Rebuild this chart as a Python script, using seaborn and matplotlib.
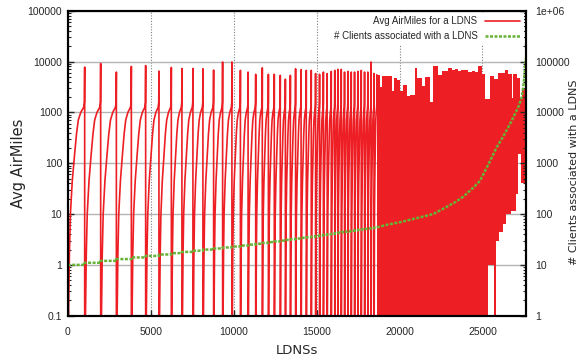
import matplotlib
matplotlib.use("Agg")
import matplotlib.pyplot as plt
import seaborn as sns
from matplotlib.ticker import FixedLocator, FixedFormatter, LogLocator, NullFormatter

# ── data ─────────────────────────────────────────────────────────────
# end of each sawtooth (one tooth = LDNSs sharing one client count)
TOOTH_END = [1024, 1988, 2934, 3837, 4699, 5500, 6247, 6885, 7548, 8150,
             8795, 9337, 9898, 10410, 10873, 11331, 11729, 12096, 12452, 12813,
             13120, 13421, 13735, 14066, 14380, 14680, 14940, 15180, 15410, 15640,
             15885, 16096, 16283, 16488, 16686, 16885, 17090, 17289, 17488, 17693,
             17892, 18090, 18283, 18464, 18633]
# airmiles reached at the right end of each tooth
TOOTH_PEAK = [7770, 9150, 6200, 8000, 8340, 6480, 7650, 7300, 7300, 7200,
              6800, 9800, 9800, 6700, 6200, 5600, 7500, 5600, 5600, 5350,
              4500, 5350, 7200, 6900, 6700, 6700, 5800, 5600, 6200, 5800,
              6400, 6700, 7000, 7000, 6200, 6400, 6200, 6200, 6400, 6700,
              6200, 6200, 9800, 5800, 5500]
# shape inside a tooth: position (fraction of tooth width) and log10(airmiles)
TOOTH_FRAC = [0.0, 0.05, 0.10, 0.16, 0.27, 0.40, 0.52, 0.625, 0.77, 0.94, 0.985]
TOOTH_LOG = [-1.6, -1.0, 0.2, 1.0, 1.65, 2.15, 2.58, 2.85, 3.0, 3.1, 3.2]
FIRST_CLIENTS = 10

# dense part: red area between a lower and an upper envelope
DENSE_X = [18633, 18823, 18925, 19226, 19528, 19666, 19865, 20028, 20190, 20468,
           20630, 20932, 21071, 21336, 21535, 21836, 22035, 22336, 22541, 22939,
           23144, 23343, 23523, 23704, 23843, 24144, 24367, 24548, 24747, 24952,
           25151, 25320, 25453, 25694, 25722, 25823, 25953, 26024, 26223, 26357,
           26428, 26555, 26730, 26760, 26857, 27031, 27080, 27127, 27260, 27332,
           27363, 27604]
DENSE_TOP = [5500, 3100, 5200, 5100, 2600, 4800, 4400, 2600, 3400, 2100,
             2200, 7600, 4800, 3300, 5000, 1600, 8000, 5350, 6400, 7600,
             6700, 7200, 6400, 6900, 6700, 6300, 6600, 6100, 8100, 5800,
             1800, 1800, 5200, 4600, 4600, 4600, 6000, 6000, 6000, 6900,
             6900, 5800, 5800, 1900, 5600, 5600, 4800, 4800, 1900, 1900,
             3000, 3000]
DENSE_BOTTOM = [0.02] * 31 + [1.0, 1.0, 1.0, 0.02, 3.0, 3.0, 4.4, 6.5, 6.5,
                              10, 10, 11.7, 11.7, 11.7, 25, 25, 155, 155, 40,
                              40, 40]

# client counts after the teeth
CLIENT_X = [18660, 19286, 20028, 20830, 22035, 22921, 23403, 23843, 24445, 24849,
            25453, 25856, 26236, 26658, 27158, 27363, 27459, 27531, 27604]
CLIENT_N = [55, 62, 69, 80, 100, 143, 175, 220, 330, 450,
            1100, 2060, 3300, 5900, 12700, 20000, 31400, 55000, 115000]

RED = "#ed1f24"
GREEN = "#66b336"

sns.set_theme(style="ticks")
plt.rcParams["font.family"] = ["Liberation Sans", "DejaVu Sans"]

# build the sawtooth line
red_x, red_y = [], []
start = 0
for end, peak in zip(TOOTH_END, TOOTH_PEAK):
    for f, lg in zip(TOOTH_FRAC, TOOTH_LOG):
        red_x.append(start + f * (end - start))
        red_y.append(10 ** lg)
    red_x.append(end)
    red_y.append(peak)
    start = end

# client count: one step per tooth, then the measured curve
cl_x, cl_y = [], []
start = 0
for i, end in enumerate(TOOTH_END):
    cl_x += [start, end]
    cl_y += [FIRST_CLIENTS + i, FIRST_CLIENTS + i]
    start = end
cl_x += CLIENT_X
cl_y += CLIENT_N

fig, ax = plt.subplots(figsize=(5.81, 3.62), dpi=100)
fig.subplots_adjust(left=0.1165, right=0.9048, bottom=0.1279, top=0.9704)
ax2 = ax.twinx()

sns.lineplot(x=red_x, y=red_y, ax=ax, estimator=None, sort=False,
             color=RED, lw=1.2, label="Avg AirMiles for a LDNS")
ax.fill_between(DENSE_X, DENSE_BOTTOM, DENSE_TOP, step="post",
                color=RED, lw=0)
sns.lineplot(x=cl_x, y=cl_y, ax=ax2, estimator=None, sort=False,
             color=GREEN, lw=1.8, linestyle=(0, (1.2, 0.6)),
             label="# Clients associated with a LDNS")

handles, labels = [], []
for a in (ax, ax2):
    h, l = a.get_legend_handles_labels()
    handles += h
    labels += l
    if a.get_legend() is not None:
        a.get_legend().remove()

ax.set_xlim(0, 27604)
ax.set_xticks(range(0, 25001, 5000))
ax.set_yscale("log")
ax.set_ylim(0.1, 1e5)
ax.yaxis.set_major_locator(FixedLocator([0.1, 1, 10, 100, 1e3, 1e4, 1e5]))
ax.yaxis.set_major_formatter(FixedFormatter(["0.1", "1", "10", "100", "1000", "10000", "100000"]))
ax.yaxis.set_minor_locator(LogLocator(base=10, subs=range(2, 10)))
ax.yaxis.set_minor_formatter(NullFormatter())

ax2.set_yscale("log")
ax2.set_ylim(1, 1e6)
ax2.yaxis.set_major_locator(FixedLocator([1, 10, 100, 1e3, 1e4, 1e5, 1e6]))
ax2.yaxis.set_major_formatter(FixedFormatter(["1", "10", "100", "1000", "10000", "100000", "1e+06"]))
ax2.yaxis.set_minor_locator(LogLocator(base=10, subs=range(2, 10)))
ax2.yaxis.set_minor_formatter(NullFormatter())

# grid behind the data
ax.set_axisbelow(True)
ax.yaxis.grid(True, which="major", color="#b4b4b4", lw=1.0, ls="-")
ax.xaxis.grid(True, which="major", color="#808080", lw=0.8, ls=(0, (1, 1.5)))

ax.tick_params(axis="x", direction="in", length=4, width=1, labelsize=7.5, pad=8)
ax.tick_params(axis="y", which="major", direction="in", length=4, width=1, labelsize=7.5, pad=4)
ax.tick_params(axis="y", which="minor", direction="in", length=2, width=0.8)
ax2.tick_params(axis="y", which="major", direction="in", length=4, width=1, labelsize=7.5, pad=6.5)
ax2.tick_params(axis="y", which="minor", direction="in", length=2, width=0.8)

for a in (ax, ax2):
    for sp in a.spines.values():
        sp.set_visible(True)
        sp.set_color("black")
        sp.set_linewidth(1.5)

ax.set_xlabel("LDNSs", fontsize=9.5, family="DejaVu Sans")
ax.set_ylabel("Avg AirMiles", fontsize=10.5, family="DejaVu Sans")
ax2.set_ylabel("# Clients associated with a LDNS", fontsize=8, family="DejaVu Sans")
ax.xaxis.set_label_coords(0.5, -0.093)
ax.yaxis.set_label_coords(-0.092, 0.5)
ax2.yaxis.set_label_coords(1.0946, 0.47)

leg = ax2.legend(handles, labels, loc="upper right", markerfirst=False,
                 frameon=True, facecolor="white", edgecolor="none", framealpha=1,
                 fancybox=False, fontsize=7, handlelength=3.6, handletextpad=0.8,
                 borderaxespad=0.2, labelspacing=0.55, borderpad=0.35)

fig.savefig("out.png", dpi=100)
